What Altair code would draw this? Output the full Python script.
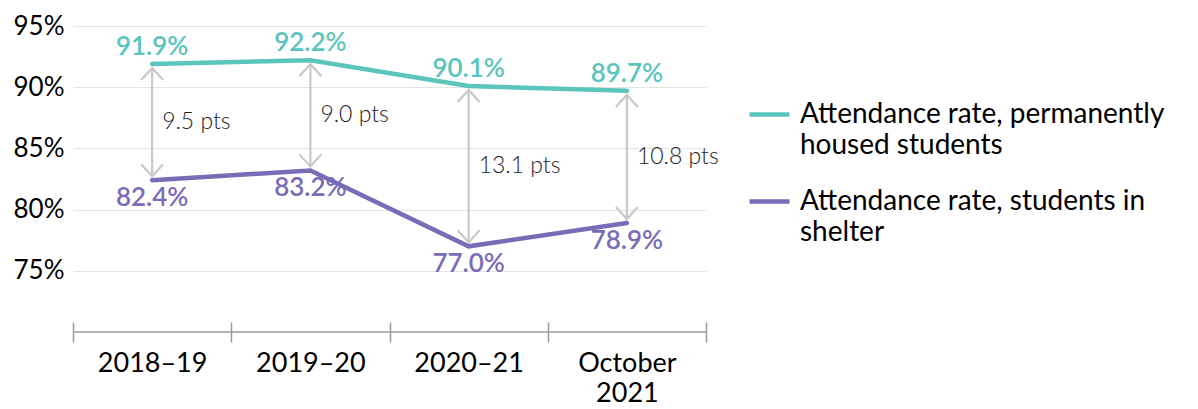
import altair as alt
import pandas as pd

periods = ["2018–19", "2019–20", "2020–21", "October 2021"]
housed = [91.9, 92.2, 90.1, 89.7]
shelter = [82.4, 83.2, 77.0, 78.9]
gap_labels = ["9.5 pts", "9.0 pts", "13.1 pts", "10.8 pts"]
series_names = ["Attendance rate, permanently housed students",
                "Attendance rate, students in shelter"]
series_lines = [["Attendance rate, permanently", "housed students"],
                ["Attendance rate, students in", "shelter"]]
series_colors = ["#5BC4BD", "#7A6BB6"]
y_ticks = [75, 80, 85, 90, 95]
y_domain = [70, 95]

FONT = "Lato"
ARROW = "#C9C9C9"
AXIS_GRAY = "#9A9A9A"

long = pd.DataFrame({
    "period": periods * 2,
    "rate": housed + shelter,
    "series": [series_names[0]] * len(periods) + [series_names[1]] * len(periods),
})
wide = pd.DataFrame({"period": periods, "housed": housed, "shelter": shelter, "gap": gap_labels})
wide["mid"] = (wide["housed"] + wide["shelter"]) / 2
wide["housed_lbl"] = wide["housed"].map(lambda v: f"{v:.1f}%")
wide["shelter_lbl"] = wide["shelter"].map(lambda v: f"{v:.1f}%")
base_df = pd.DataFrame({"v": [y_domain[0]]})

yscale = alt.Scale(domain=y_domain, nice=False, zero=False)
yaxis = alt.Axis(values=y_ticks, title=None, labelExpr="datum.value + '%'")
xscale = alt.Scale(paddingInner=0, paddingOuter=0)


def X():
    return alt.X("period:N", sort=periods, scale=xscale, title=None)


def Y(field):
    return alt.Y(f"{field}:Q", scale=yscale, axis=yaxis, title=None)


oct_lines = "['October', '2021']"
x_label_expr = f"datum.value == 'October 2021' ? {oct_lines} : datum.value"

legend_expr = (
    f"datum.label == '{series_names[0]}' ? {series_lines[0]!r} : {series_lines[1]!r}"
)

baseline = alt.Chart(base_df).mark_rule(color=AXIS_GRAY, strokeWidth=1.5).encode(y=Y("v"))

arrows = alt.Chart(wide).mark_rule(color=ARROW, strokeWidth=2.2, yOffset=5, y2Offset=-5).encode(
    x=X(), y=Y("housed"), y2="shelter:Q")

top_heads = alt.Chart(wide).mark_point(
    shape="M-1,0.55L0,-0.55L1,0.55", size=484, filled=False, strokeWidth=2.2,
    color=ARROW, opacity=1, yOffset=10).encode(x=X(), y=Y("housed"))

bottom_heads = alt.Chart(wide).mark_point(
    shape="M-1,-0.55L0,0.55L1,-0.55", size=484, filled=False, strokeWidth=2.2,
    color=ARROW, opacity=1, yOffset=-10).encode(x=X(), y=Y("shelter"))

gap_text = alt.Chart(wide).mark_text(
    align="left", baseline="middle", dx=10, fontSize=23, font=FONT,
    fontWeight=300, color="#222222").encode(x=X(), y=Y("mid"), text="gap:N")

lines = alt.Chart(long).mark_line(strokeWidth=4.5, strokeCap="round").encode(
    x=X(), y=Y("rate"),
    color=alt.Color("series:N", scale=alt.Scale(domain=series_names, range=series_colors),
                    legend=alt.Legend(
                        title=None, orient="none", legendX=674, legendY=66,
                        symbolType="stroke", symbolSize=1600,
                        symbolStrokeWidth=4.5, labelFont=FONT, labelFontSize=28,
                        labelColor="black", labelLimit=0, labelExpr=legend_expr,
                        labelBaseline="middle", labelOffset=8, rowPadding=19)))

top_labels = alt.Chart(wide).mark_text(
    baseline="alphabetic", dy=-9, fontSize=26, font=FONT, fontWeight=600,
    color=series_colors[0]).encode(x=X(), y=Y("housed"), text="housed_lbl:N")

bottom_labels = alt.Chart(wide).mark_text(
    baseline="top", dy=5, fontSize=26, font=FONT, fontWeight=600,
    color=series_colors[1]).encode(x=X(), y=Y("shelter"), text="shelter_lbl:N")

chart = alt.layer(
    baseline, arrows, top_heads, bottom_heads, gap_text, lines, top_labels, bottom_labels
).properties(
    width=633, height=306, padding={"left": 5, "top": 5, "right": 5, "bottom": 0}
).configure_view(stroke=None).configure_axisY(
    grid=True, gridColor="#E4E4E4", gridWidth=1, domain=False, ticks=False,
    labelFont=FONT, labelFontSize=26, labelColor="black", labelPadding=9,
).configure_axisX(
    grid=False, domain=False, ticks=True, tickBand="extent", tickColor=AXIS_GRAY,
    tickWidth=1.5, tickSize=20, offset=-10, labelFont=FONT, labelFontSize=27,
    labelColor="black", labelPadding=8, labelAngle=0, labelLineHeight=30,
    labelExpr=x_label_expr,
)
chart.config.style = {"guide-label": {"lineHeight": 31}}

chart.save("out.html", embed_options={"renderer": "svg", "actions": False})
